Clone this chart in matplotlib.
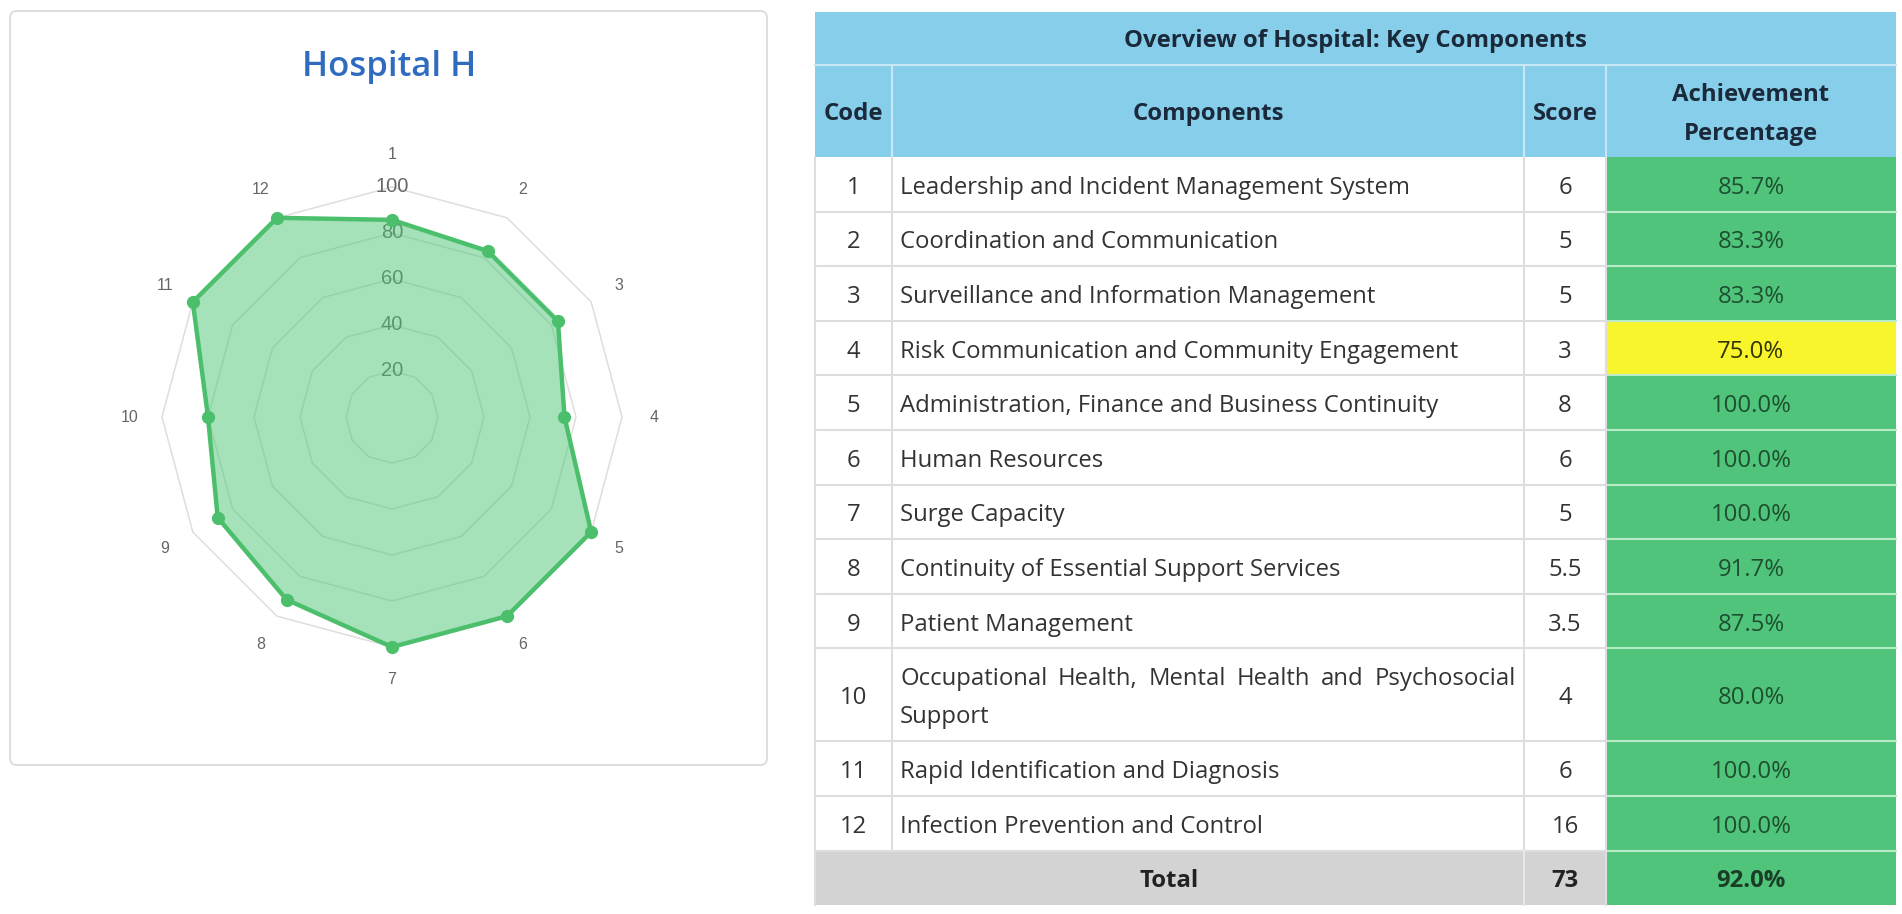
import numpy as np
import matplotlib
matplotlib.use("Agg")
from matplotlib import pyplot as plt
from matplotlib import patches

plt.rcParams['font.family'] = ['Open Sans', 'DejaVu Sans']

# data
codes = [1, 2, 3, 4, 5, 6, 7, 8, 9, 10, 11, 12]
components = [
    "Leadership and Incident Management System",
    "Coordination and Communication",
    "Surveillance and Information Management",
    "Risk Communication and Community Engagement",
    "Administration, Finance and Business Continuity",
    "Human Resources",
    "Surge Capacity",
    "Continuity of Essential Support Services",
    "Patient Management",
    "Occupational Health, Mental Health and Psychosocial Support",
    "Rapid Identification and Diagnosis",
    "Infection Prevention and Control",
]
scores = [6, 5, 5, 3, 8, 6, 5, 5.5, 3.5, 4, 6, 16]
achievement = [85.7, 83.3, 83.3, 75.0, 100.0, 100.0, 100.0, 91.7, 87.5, 80.0, 100.0, 100.0]
total_score = 73
total_pct = 92.0
radar_ticks = [20, 40, 60, 80, 100]
chart_title = "Hospital H"
table_title = "Overview of Hospital: Key Components"

W, H = 1902, 914
fig = plt.figure(figsize=(W / 100, H / 100), dpi=100)
fig.patch.set_facecolor('white')
ax = fig.add_axes([0, 0, 1, 1])
ax.set_xlim(0, W)
ax.set_ylim(H, 0)
ax.axis('off')
renderer = fig.canvas.get_renderer()

# ---------- left card with radar ----------
card = patches.FancyBboxPatch((10, 11), 757, 754, boxstyle="round,pad=0,rounding_size=7",
                              fc='white', ec='#dcdcdc', lw=1.3)
ax.add_patch(card)
ax.text(389, 67, chart_title, ha='center', va='center', fontsize=25, color='#2f6cbf',
        fontweight='semibold')

cx, cy, R = 392, 417, 230
pax = fig.add_axes([(cx - R) / W, (H - cy - R) / H, 2 * R / W, 2 * R / H], projection='polar')
pax.set_theta_zero_location('N')
pax.set_theta_direction(-1)
pax.set_ylim(0, 100)
pax.patch.set_alpha(0)
pax.grid(False)
pax.spines['polar'].set_visible(False)
pax.set_xticks([])
pax.set_yticks([])

n = len(codes)
theta = np.linspace(0, 2 * np.pi, n, endpoint=False)
th_closed = np.append(theta, theta[0])

for v in radar_ticks:
    pax.plot(th_closed, [v] * (n + 1), color='#dedede', lw=1.1, zorder=1, clip_on=False)
    pax.text(0, v, str(v), ha='center', va='center', fontsize=14.5, color='#666666',
             family='Liberation Sans', zorder=2, clip_on=False)

for t, c in zip(theta, codes):
    pax.text(t, 114, str(c), ha='center', va='center', fontsize=11.5, color='#666666',
             family='Liberation Sans', clip_on=False)

vals = np.append(achievement, achievement[0])
pax.fill(th_closed, vals, color='#4cc775', alpha=0.5, lw=0, zorder=3)
pax.plot(th_closed, vals, color='#4cbf6d', lw=3.2, zorder=4, clip_on=False)
pax.plot(theta, achievement, 'o', color='#4cbf6d', ms=8.5, zorder=5, clip_on=False)

# ---------- table ----------
col_x = [815, 892, 1524, 1606, 1896]
title_y0, title_y1 = 12, 65
head_y1 = 157
row_h = 54.6
body_color = '#333333'
head_color = '#1b2a3a'
head_bg = '#87ceeb'
green = '#4fc47a'
yellow = '#f8f52c'
fs = 17.2
dy = 3.5  # small downward nudge of text inside cells


def text_w(s, **kw):
    t = ax.text(0, 0, s, fontsize=fs, **kw)
    w = t.get_window_extent(renderer).width
    t.remove()
    return w


def wrap(s, width):
    lines, cur = [], []
    for word in s.split():
        trial = " ".join(cur + [word])
        if cur and text_w(trial) > width:
            lines.append(cur)
            cur = [word]
        else:
            cur.append(word)
    lines.append(cur)
    return lines


pad = 8
avail = col_x[2] - col_x[1] - 2 * pad
wrapped = [wrap(s, avail) for s in components]
heights = [row_h if len(l) == 1 else 93 for l in wrapped]

# title and header
ax.add_patch(patches.Rectangle((col_x[0], title_y0), col_x[-1] - col_x[0], head_y1 - title_y0,
                               fc=head_bg, ec='none'))
ax.text((col_x[0] + col_x[-1]) / 2, (title_y0 + title_y1) / 2 + dy - 1, table_title, ha='center',
        va='center', fontsize=fs, fontweight='bold', color=head_color)
hy = (title_y1 + head_y1) / 2 + dy
ax.text((col_x[0] + col_x[1]) / 2, hy, "Code", ha='center', va='center', fontsize=fs,
        fontweight='bold', color=head_color)
ax.text((col_x[1] + col_x[2]) / 2, hy, "Components", ha='center', va='center', fontsize=fs,
        fontweight='bold', color=head_color)
ax.text((col_x[2] + col_x[3]) / 2, hy, "Score", ha='center', va='center', fontsize=fs,
        fontweight='bold', color=head_color)
ax.text((col_x[3] + col_x[4]) / 2, hy - 19.5, "Achievement", ha='center', va='center',
        fontsize=fs, fontweight='bold', color=head_color)
ax.text((col_x[3] + col_x[4]) / 2, hy + 19.5, "Percentage", ha='center', va='center',
        fontsize=fs, fontweight='bold', color=head_color)
ax.plot([col_x[0], col_x[-1]], [title_y1, title_y1], color='#c8e8f6', lw=1.5)
for x in col_x[1:-1]:
    ax.plot([x, x], [title_y1, head_y1], color='#c8e8f6', lw=1.5)

y = head_y1
for code, lines, sc, pct, h in zip(codes, wrapped, scores, achievement, heights):
    ax.add_patch(patches.Rectangle((col_x[0], y), col_x[3] - col_x[0], h, fc='white', ec='none'))
    ax.add_patch(patches.Rectangle((col_x[3], y), col_x[4] - col_x[3], h,
                                   fc=green if pct >= 80 else yellow, ec='none'))
    ym = y + h / 2 + dy
    ax.text((col_x[0] + col_x[1]) / 2, ym, str(code), ha='center', va='center', fontsize=fs,
            color=body_color)
    ax.text((col_x[2] + col_x[3]) / 2, ym, f"{sc:g}", ha='center', va='center', fontsize=fs,
            color=body_color)
    ax.text((col_x[3] + col_x[4]) / 2, ym, f"{pct:.1f}%", ha='center', va='center', fontsize=fs,
            color='#1d4f30' if pct >= 80 else '#333300')
    lh = 38
    ly0 = ym - lh * (len(lines) - 1) / 2
    for i, words in enumerate(lines):
        ly = ly0 + i * lh
        x0 = col_x[1] + pad
        if i < len(lines) - 1 and len(words) > 1:
            # justified line
            ws = [text_w(w) for w in words]
            gap = (avail - sum(ws)) / (len(words) - 1)
            xx = x0
            for w, wd in zip(words, ws):
                ax.text(xx, ly, w, ha='left', va='center', fontsize=fs, color=body_color)
                xx += wd + gap
        else:
            ax.text(x0, ly, " ".join(words), ha='left', va='center', fontsize=fs,
                    color=body_color)
    y += h
    ax.plot([col_x[0], col_x[3]], [y, y], color='#dedede', lw=1.5)
    ax.plot([col_x[3], col_x[4]], [y, y], color='#b8ebc8', lw=1.5)

body_end = y
total_h = 54
ax.add_patch(patches.Rectangle((col_x[0], y), col_x[3] - col_x[0], total_h, fc='#d3d3d3', ec='none'))
ax.add_patch(patches.Rectangle((col_x[3], y), col_x[4] - col_x[3], total_h, fc=green, ec='none'))
ym = y + total_h / 2 + dy
ax.text((col_x[0] + col_x[2]) / 2, ym, "Total", ha='center', va='center', fontsize=fs,
        fontweight='bold', color='#222222')
ax.text((col_x[2] + col_x[3]) / 2, ym, str(total_score), ha='center', va='center', fontsize=fs,
        fontweight='bold', color='#222222')
ax.text((col_x[3] + col_x[4]) / 2, ym, f"{total_pct:.1f}%", ha='center', va='center', fontsize=fs,
        fontweight='bold', color='#1a3d26')

for x in col_x[1:3]:
    ax.plot([x, x], [head_y1, body_end], color='#dedede', lw=1.5)
ax.plot([col_x[2], col_x[2]], [body_end, body_end + total_h], color='#e8e8e8', lw=1.5)
ax.plot([col_x[3], col_x[3]], [head_y1, body_end + total_h], color='#dedede', lw=1.5)
ax.plot([col_x[0], col_x[0]], [head_y1, body_end + total_h], color='#dedede', lw=1.5)

fig.savefig('out.png', dpi=100, facecolor='white')
